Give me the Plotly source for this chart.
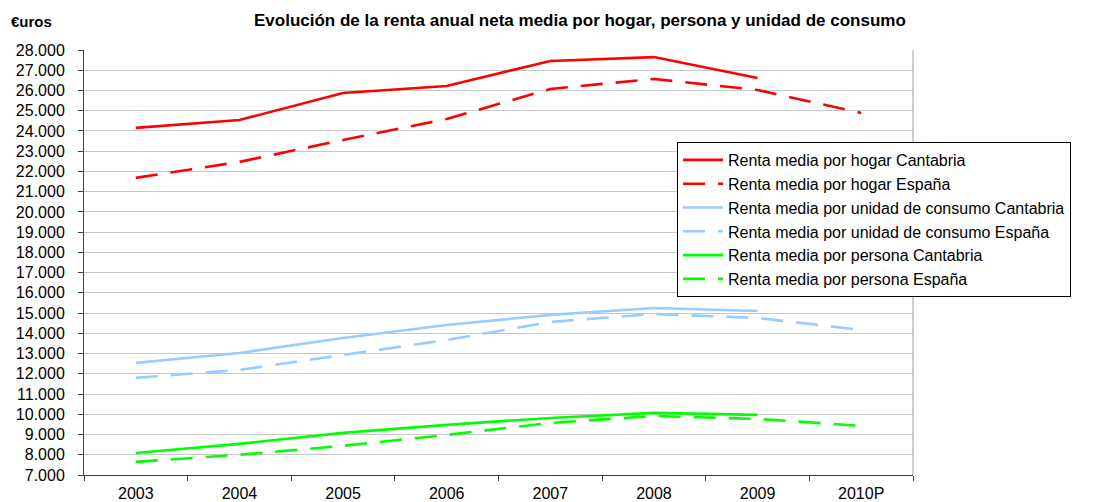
import plotly.graph_objects as go

years = ["2003", "2004", "2005", "2006", "2007", "2008", "2009", "2010P"]
hogar_cantabria = [24150, 24540, 25875, 26220, 27460, 27650, 26620, None]
hogar_espana = [21680, 22470, 23555, 24590, 26075, 26570, 26025, 24890]
unidad_cantabria = [12540, 13030, 13770, 14410, 14910, 15250, 15100, None]
unidad_espana = [11800, 12190, 12930, 13670, 14560, 14960, 14760, 14170]
persona_cantabria = [8090, 8540, 9080, 9475, 9820, 10070, 9970, None]
persona_espana = [7650, 8000, 8440, 8980, 9570, 9920, 9770, 9430]

series = [
    ("Renta media por hogar Cantabria", hogar_cantabria, "#ff0000", "solid"),
    ("Renta media por hogar España", hogar_espana, "#ff0000", "22px,13px"),
    ("Renta media por unidad de consumo Cantabria", unidad_cantabria, "#99ccff", "solid"),
    ("Renta media por unidad de consumo España", unidad_espana, "#99ccff", "22px,13px"),
    ("Renta media por persona Cantabria", persona_cantabria, "#00ff00", "solid"),
    ("Renta media por persona España", persona_espana, "#00ff00", "22px,13px"),
]

FONT = "Liberation Sans, Arial, sans-serif"
OFF = 8  # page body margin
W, H = 1114 - OFF, 502 - OFF
# plot area in page pixels: x 84..913, y 50..475
L, R, T, B = 84 - OFF, 1114 - 913, 50 - OFF, 502 - 475
PW, PH = W - L - R, H - T - B


def px(xp):
    return (xp - 84) / PW


def py(yp):
    return (475 - yp) / PH


fig = go.Figure()
for name, vals, color, dash in series:
    fig.add_trace(go.Scatter(
        x=years, y=vals, name=name, mode="lines",
        line=dict(color=color, width=2.6, dash=dash),
    ))

fig.update_layout(
    width=W, height=H,
    margin=dict(l=L, r=R, t=T, b=B, autoexpand=False),
    paper_bgcolor="white", plot_bgcolor="white",
    separators=",.",
    font=dict(family=FONT, size=16, color="black"),
    showlegend=True,
    legend=dict(
        x=px(677), y=py(142), xanchor="left", yanchor="top",
        bgcolor="white", bordercolor="black", borderwidth=1,
        font=dict(family=FONT, size=16, color="black"),
        itemwidth=40,
    ),
    xaxis=dict(
        type="category", tickson="boundaries", ticks="outside", ticklen=5,
        tickcolor="#404040", showline=True, linecolor="#404040", linewidth=1,
        showgrid=False, zeroline=False, range=[-0.5, 7.5], automargin=False,
        ticklabelstandoff=4,
        tickfont=dict(family=FONT, size=16, color="black"),
    ),
    yaxis=dict(
        range=[7000, 28000], dtick=1000, tick0=7000, tickformat=",.0f",
        ticks="outside", ticklen=5, tickcolor="#404040", automargin=False,
        showline=True, linecolor="#404040", linewidth=1, ticklabelstandoff=10,
        showgrid=True, gridcolor="#c8c8c8", gridwidth=1, zeroline=False,
        tickfont=dict(family=FONT, size=16, color="black"),
    ),
    annotations=[
        dict(
            text="<b>Evolución de la renta anual neta media por hogar, persona y unidad de consumo</b>",
            xref="paper", yref="paper", x=px(580), y=py(20),
            xanchor="center", yanchor="middle", showarrow=False,
            font=dict(family=FONT, size=17, color="black"),
        ),
        dict(
            text="<b>€uros</b>", xref="paper", yref="paper",
            x=px(9), y=py(21), xanchor="left", yanchor="middle",
            showarrow=False, font=dict(family=FONT, size=15, color="black"),
        ),
    ],
    shapes=[dict(
        type="line", xref="paper", yref="paper", x0=1, x1=1, y0=0, y1=1,
        line=dict(color="#a0a0a0", width=1),
    )],
)

fig.write_html("out.html")
